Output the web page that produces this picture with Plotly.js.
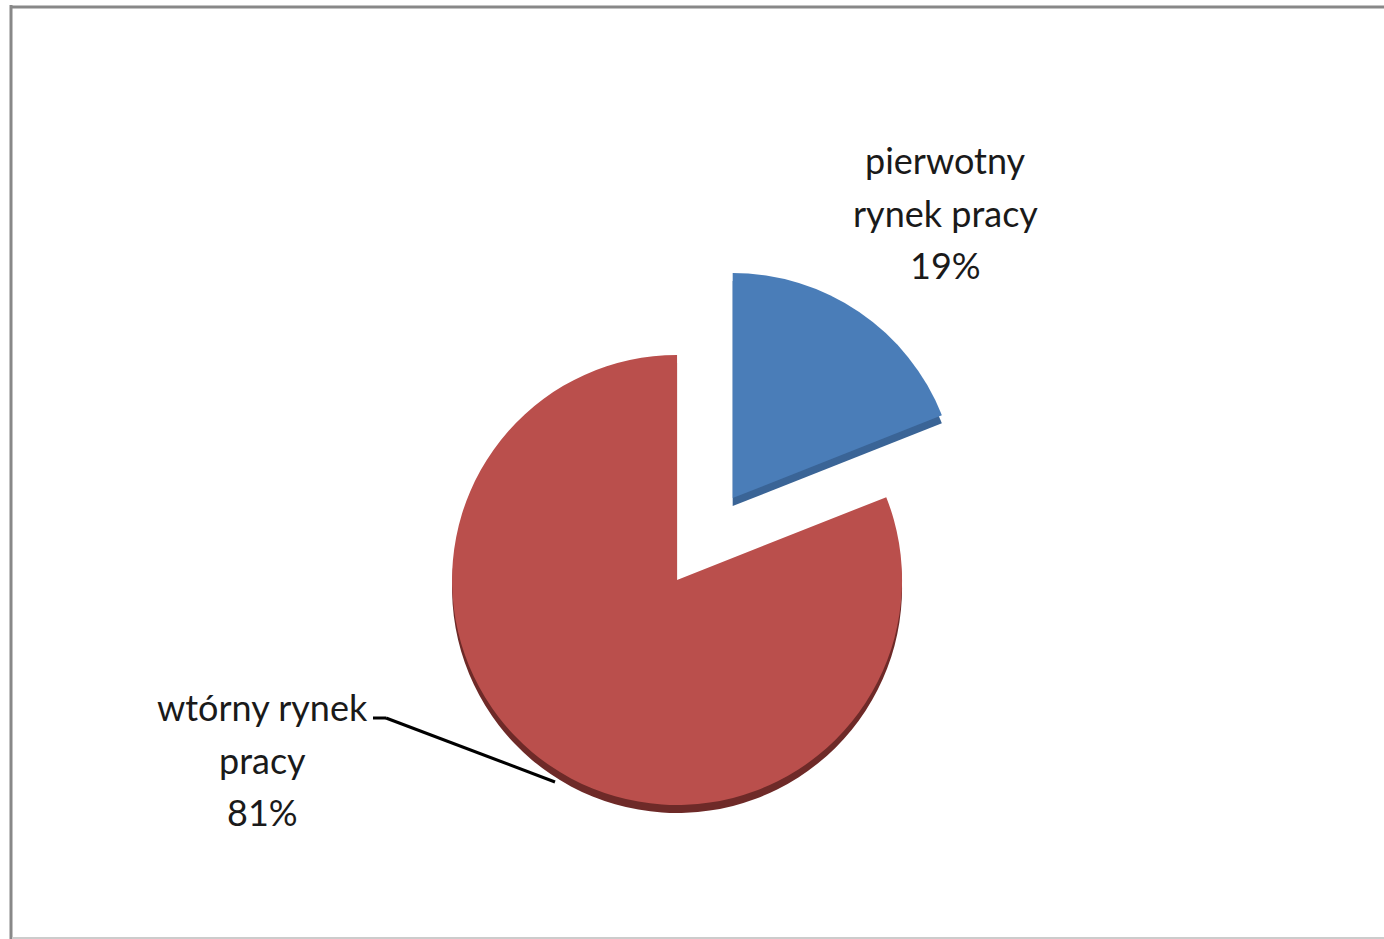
<!DOCTYPE html>
<html>
<head>
<meta charset="utf-8">
<script src="https://cdn.plot.ly/plotly-3.0.1.min.js"></script>
<style>html,body{margin:0;padding:0;background:#fff;}#chart{width:1384px;height:939px;}</style>
</head>
<body>
<div id="chart"></div>
<script>
// Data
const labels = ['pierwotny rynek pracy', 'wtórny rynek pracy'];
const labelLines = [['pierwotny', 'rynek pracy'], ['wtórny rynek', 'pracy']];
const values = [19, 81];
const colors = ['#4A7DB8', '#BA4F4C'];
const edgeColors = ['#3A6496', '#6E2A28'];
const pulls = [0.44, 0];

const total = values.reduce((a, b) => a + b, 0);
const pctText = values.map(v => Math.round(v / total * 100) + '%');

const W = 1384, H = 939;
const dom = {x: [0.2551, 0.7233], y: [0.0373, 0.7274]};
const depth = 8 / H;

const base = {
  type: 'pie', labels: labels, values: values, sort: false,
  direction: 'clockwise', rotation: 0, pull: pulls,
  textinfo: 'none', hoverinfo: 'skip', showlegend: false
};

const shadow = Object.assign({}, base, {
  marker: {colors: edgeColors, line: {width: 0}},
  domain: {x: dom.x, y: [dom.y[0] - depth, dom.y[1] - depth]}
});
const face = Object.assign({}, base, {
  marker: {colors: colors, line: {width: 0}},
  domain: dom
});

const font = {family: 'Lato, "Open Sans", sans-serif', size: 36, color: '#1a1a1a'};

const px = (x) => x / W, py = (y) => 1 - y / H;

// label blocks: centre x and first-line centre y (pixels), 52.5px line spacing
const labelPos = [{x: 945, y: 160}, {x: 262, y: 707}];
const annotations = [];
labels.forEach((lab, i) => {
  const lines = labelLines[i].concat([pctText[i]]);
  lines.forEach((t, j) => {
    annotations.push({
      text: t, x: px(labelPos[i].x), y: py(labelPos[i].y + j * 52.5),
      xref: 'paper', yref: 'paper', showarrow: false,
      xanchor: 'center', yanchor: 'middle', font: font
    });
  });
});

const shapes = [
  {type: 'line', xref: 'paper', yref: 'paper', x0: px(373), y0: py(718), x1: px(386), y1: py(718), line: {color: '#000', width: 3}},
  {type: 'line', xref: 'paper', yref: 'paper', x0: px(386), y0: py(718), x1: px(555), y1: py(782), line: {color: '#000', width: 3}},
  {type: 'line', xref: 'paper', yref: 'paper', x0: px(11), y0: py(5), x1: px(11), y1: py(939), line: {color: '#888', width: 3}},
  {type: 'line', xref: 'paper', yref: 'paper', x0: px(10), y0: py(7), x1: px(1384), y1: py(7), line: {color: '#888', width: 3}},
  {type: 'line', xref: 'paper', yref: 'paper', x0: px(12), y0: py(938), x1: px(1384), y1: py(938), line: {color: '#ccc', width: 2}}
];

Plotly.newPlot('chart', [shadow, face], {
  width: W, height: H,
  margin: {l: 0, r: 0, t: 0, b: 0},
  paper_bgcolor: '#fff',
  annotations: annotations,
  shapes: shapes
}, {displayModeBar: false, staticPlot: true});
</script>
</body>
</html>
